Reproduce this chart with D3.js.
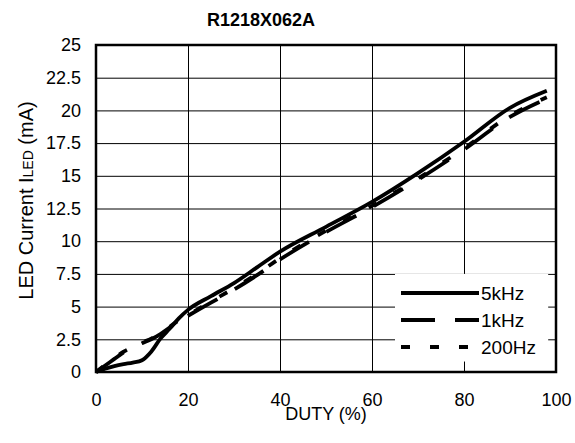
<!DOCTYPE html>
<html>
<head>
<meta charset="utf-8">
<script src="https://cdn.jsdelivr.net/npm/d3@7"></script>
<style>
  body { margin: 0; background: #fff; }
  text { font-family: "Liberation Sans", Arial, sans-serif; fill: #000; }
</style>
</head>
<body>
<svg id="chart" width="575" height="443"></svg>
<script>
// duty (%) readings for each series
var duty = [0, 2, 4, 6, 8, 10, 12, 14, 16, 18, 20, 25, 30, 35, 40, 50, 60, 70, 80, 90, 98];
var i5k   = [0, 0.25, 0.45, 0.6, 0.72, 0.9, 1.55, 2.55, 3.3, 4.1, 4.75, 5.8, 6.8, 8.0, 9.2, 11.1, 13.0, 15.2, 17.6, 20.2, 21.5];
var i1k   = [0, 0.5, 1.0, 1.5, 1.85, 2.2, 2.5, 2.9, 3.4, 3.9, 4.3, 5.3, 6.3, 7.4, 8.6, 10.7, 12.6, 14.7, 17.0, 19.5, 20.9];
var i200  = [0, 0.55, 1.05, 1.55, 1.9, 2.25, 2.55, 2.95, 3.45, 3.95, 4.35, 5.4, 6.4, 7.5, 8.7, 10.8, 12.7, 14.8, 17.1, 19.6, 21.0];

var seriesNames = ["5kHz", "1kHz", "200Hz"];
var seriesVals = [i5k, i1k, i200];
var dashes = [null, "34,20", "9,20"];

var xTicks = [0, 20, 40, 60, 80, 100];
var yTicks = [0, 2.5, 5, 7.5, 10, 12.5, 15, 17.5, 20, 22.5, 25];

var MARGIN = {left: 96, top: 45, right: 19, bottom: 71};
var width = 575 - MARGIN.left - MARGIN.right;
var height = 443 - MARGIN.top - MARGIN.bottom;

var svg = d3.select("#chart");
var g = svg.append("g")
    .attr("transform", "translate(" + MARGIN.left + "," + MARGIN.top + ")");

var x = d3.scaleLinear().domain([0, 100]).range([0, width]);
var y = d3.scaleLinear().domain([0, 25]).range([height, 0]);

// grid
g.append("g")
    .attr("class", "x-grid")
    .attr("transform", "translate(0," + height + ")")
    .call(d3.axisBottom(x).tickValues(xTicks).tickSize(-height).tickFormat(""))
    .call(function(s) { s.select(".domain").remove(); })
    .selectAll("line").attr("stroke", "#000").attr("stroke-width", 1);

g.append("g")
    .attr("class", "y-grid")
    .call(d3.axisLeft(y).tickValues(yTicks).tickSize(-width).tickFormat(""))
    .call(function(s) { s.select(".domain").remove(); })
    .selectAll("line").attr("stroke", "#000").attr("stroke-width", 1);

// legend background covers the grid
var lg = g.append("g").attr("transform", "translate(" + (x(65) ) + "," + y(7.5) + ")");
lg.append("rect")
    .attr("x", 0).attr("y", 0)
    .attr("width", x(98.3) - x(65)).attr("height", y(0.8) - y(7.5))
    .attr("fill", "#fff");

// frame
g.append("rect")
    .attr("width", width).attr("height", height)
    .attr("fill", "none").attr("stroke", "#000").attr("stroke-width", 2.5);

// axis labels
g.append("g")
    .attr("transform", "translate(0," + height + ")")
    .call(d3.axisBottom(x).tickValues(xTicks).tickSize(0).tickPadding(21))
    .call(function(s) { s.select(".domain").remove(); })
    .selectAll("text")
    .style("font-size", "18px")
    .style("font-family", "Liberation Sans, Arial, sans-serif");

g.append("g")
    .call(d3.axisLeft(y).tickValues(yTicks).tickSize(0).tickPadding(15).tickFormat(function(d) { return d; }))
    .call(function(s) { s.select(".domain").remove(); })
    .selectAll("text")
    .style("font-size", "18px")
    .style("font-family", "Liberation Sans, Arial, sans-serif");

// lines
var line = d3.line()
    .x(function(d) { return x(d[0]); })
    .y(function(d) { return y(d[1]); })
    .curve(d3.curveMonotoneX);

seriesVals.forEach(function(vals, k) {
    var pts = duty.map(function(d, i) { return [d, vals[i]]; });
    g.append("path")
        .datum(pts)
        .attr("d", line)
        .attr("fill", "none")
        .attr("stroke", "#000")
        .attr("stroke-width", 3.8)
        .attr("stroke-dasharray", dashes[k]);
});

// legend entries
seriesNames.forEach(function(name, k) {
    var yy = 19 + k * 27;
    lg.append("line")
        .attr("x1", 6).attr("x2", 84)
        .attr("y1", yy).attr("y2", yy)
        .attr("stroke", "#000")
        .attr("stroke-width", 4)
        .attr("stroke-dasharray", dashes[k]);
    lg.append("text")
        .attr("x", 86).attr("y", yy + 7)
        .style("font-size", "19px")
        .text(name);
});

// title
svg.append("text")
    .attr("x", 261).attr("y", 26)
    .attr("text-anchor", "middle")
    .style("font-size", "18px")
    .style("font-weight", "bold")
    .text("R1218X062A");

svg.append("text")
    .attr("x", 326).attr("y", 420)
    .attr("text-anchor", "middle")
    .style("font-size", "18px")
    .text("DUTY (%)");

var yl = svg.append("text")
    .attr("transform", "translate(33," + (MARGIN.top + height / 2 - 8) + ") rotate(-90)")
    .attr("text-anchor", "middle")
    .style("font-size", "20px");
yl.append("tspan").text("LED Current I");
yl.append("tspan").style("font-size", "14px").text("LED");
yl.append("tspan").text(" (mA)");
</script>
</body>
</html>
